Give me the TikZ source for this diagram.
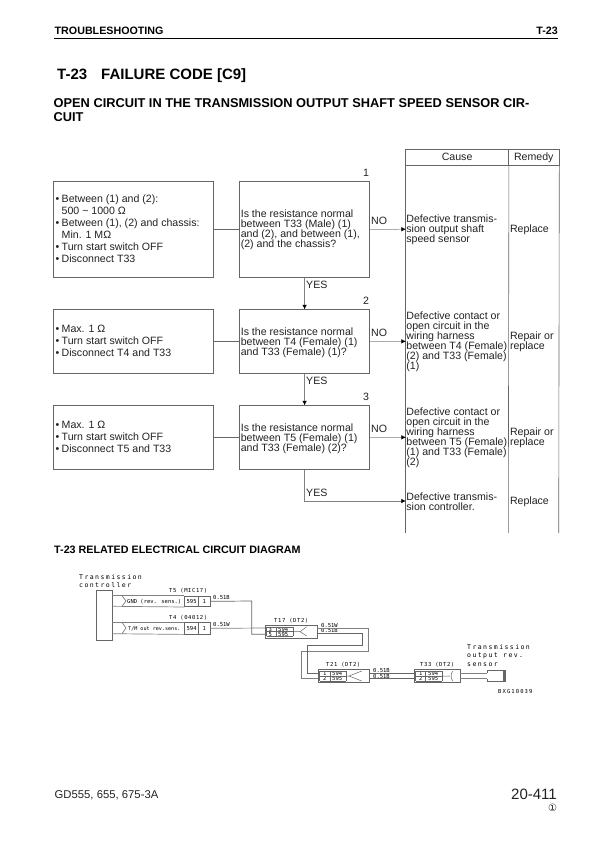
\documentclass[tikz,border=0pt]{standalone}
\usepackage{fontspec}
\setmainfont{Liberation Sans}
\newfontfamily\cctfont{DejaVu Sans Mono}
\newfontfamily\cctmid[LetterSpace=11]{DejaVu Sans Mono}
\newfontfamily\cctbxg[LetterSpace=20]{DejaVu Sans Mono}
\newfontfamily\cctwide[LetterSpace=22]{DejaVu Sans Mono}
\newfontfamily\symfont{DejaVu Sans}
\usetikzlibrary{arrows.meta}
\definecolor{ink}{HTML}{222222}
\definecolor{rule}{HTML}{666666}
\definecolor{wire}{HTML}{808080}
\tikzset{
  body/.style={font=\fontsize{10.6}{10}\selectfont,text=ink,inner sep=0pt},
  lab/.style={body,anchor=west,align=left},
  infobox/.style={draw=rule,line width=0.6pt,anchor=north west,inner sep=0pt},
  headcell/.style={infobox,body,text height=8pt,text depth=2.2pt},
  tip/.style={-{Latex[length=4.5pt,width=4.5pt,color=black]},draw=wire,line width=0.5pt},
  link/.style={draw=rule,line width=0.5pt},
  head/.style={font=\bfseries,text=black,inner sep=0pt,anchor=base west},
  cct/.style={font=\cctfont\fontsize{5.5}{6}\selectfont,text=black,inner sep=0pt,anchor=base west},
  cctt/.style={font=\cctmid\fontsize{5.5}{6}\selectfont,text=black,inner sep=0pt,anchor=base west},
  cctw/.style={font=\cctwide\fontsize{6.5}{8.7}\selectfont,text=black,inner sep=0pt,anchor=north west,align=left},
  wireline/.style={draw=wire,line width=0.7pt},
  darkwire/.style={draw=rule,line width=0.7pt},
  conn/.style={draw=rule,line width=0.7pt,anchor=north west,inner sep=0pt,fill=white},
}
\newcommand{\bul}{\makebox[6pt][l]{•}}
\begin{document}
\begin{tikzpicture}[x=1pt,y=1pt]
\fill[white] (0,0) rectangle (595,-842);
\useasboundingbox (0,0) rectangle (595,-842);
% header
\node[head,font=\bfseries\fontsize{10.7}{12}\selectfont] (hdl) at (54.5,-35) {TROUBLESHOOTING};
\node[head,anchor=base east,font=\bfseries\fontsize{10.7}{12}\selectfont] (hdr) at (558,-35) {T-23};
\coordinate (rl) at (54,-38.6); \coordinate (rr) at (558,-38.6);
\draw[line width=1pt,black] (rl) -- (rr);
\node[head,font=\bfseries\fontsize{15}{17}\selectfont] (t1) at (57,-79.5) {T-23};
\node[head,font=\bfseries\fontsize{15}{17}\selectfont] (t2) at (101,-79.5) {FAILURE CODE [C9]};
\node[head,font=\bfseries\fontsize{12.8}{14}\selectfont] (t3) at (53.5,-108) {OPEN CIRCUIT IN THE TRANSMISSION OUTPUT SHAFT SPEED SENSOR CIR-};
\node[head,font=\bfseries\fontsize{12.8}{14}\selectfont] (t4) at (53.5,-122) {CUIT};
% table
\node[headcell,minimum width=103pt,minimum height=16pt] (cause) at (405.3,-149.3) {Cause};
\node[headcell,minimum width=50.4pt,minimum height=16pt] (remedy) at (508.3,-149.3) {Remedy};
\coordinate (tb1) at (405.3,-533); \coordinate (tb2) at (508.3,-533); \coordinate (tb3) at (558.7,-533);
\draw[link,line width=0.6pt] (cause.south west) -- (tb1);
\draw[link,line width=0.6pt] (cause.south east) -- (tb2);
\draw[link,line width=0.6pt] (remedy.south east) -- (tb3);
% left boxes
\node[infobox,minimum width=159.5pt,minimum height=95.7pt] (a1) at (53.3,-181.3) {};
\node[lab,font=\fontsize{10.6}{12}\selectfont] (a1t) at (55.5,-229) {\bul Between (1) and (2):\\\hspace*{6pt}500 \char"007E{} 1000 Ω\\\bul Between (1), (2) and chassis:\\\hspace*{6pt}Min. 1 MΩ\\\bul Turn start switch OFF\\\bul Disconnect T33};
\node[infobox,minimum width=159.5pt,minimum height=64pt] (a2) at (53.3,-309.3) {};
\node[lab,font=\fontsize{10.6}{12}\selectfont] (a2t) at (55.5,-341.3) {\bul Max. 1 Ω\\\bul Turn start switch OFF\\\bul Disconnect T4 and T33};
\node[infobox,minimum width=159.5pt,minimum height=64pt] (a3) at (53.3,-405.3) {};
\node[lab,font=\fontsize{10.6}{12}\selectfont] (a3t) at (55.5,-437.3) {\bul Max. 1 Ω\\\bul Turn start switch OFF\\\bul Disconnect T5 and T33};
% question boxes
\node[infobox,minimum width=130pt,minimum height=95.7pt] (q1) at (239.3,-181.3) {};
\node[lab] (q1t) at (240.6,-230) {Is the resistance normal\\between T33 (Male) (1)\\and (2), and between (1),\\(2) and the chassis?};
\node[infobox,minimum width=130pt,minimum height=64pt] (q2) at (239.3,-309.3) {};
\node[lab] (q2t) at (240.6,-342.3) {Is the resistance normal\\between T4 (Female) (1)\\and T33 (Female) (1)?};
\node[infobox,minimum width=130pt,minimum height=64pt] (q3) at (239.3,-405.3) {};
\node[lab] (q3t) at (240.6,-438.3) {Is the resistance normal\\between T5 (Female) (1)\\and T33 (Female) (2)?};
% numbers
\node[body] (n1) at (366,-173) {1};
\node[body] (n2) at (366,-301) {2};
\node[body] (n3) at (366,-397) {3};
% cause and remedy
\node[lab] (c1) at (406.2,-229.5) {Defective transmis-\\sion output shaft\\speed sensor};
\node[lab] (c2) at (406.2,-341.8) {Defective contact or\\open circuit in the\\wiring harness\\between T4 (Female)\\(2) and T33 (Female)\\(1)};
\node[lab] (c3) at (406.2,-437.8) {Defective contact or\\open circuit in the\\wiring harness\\between T5 (Female)\\(1) and T33 (Female)\\(2)};
\node[lab] (c4) at (406.2,-501.5) {Defective transmis-\\sion controller.};
\node[lab] (r1) at (509.8,-229.5) {Replace};
\node[lab] (r2) at (509.8,-342) {Repair or\\replace};
\node[lab] (r3) at (509.8,-438) {Repair or\\replace};
\node[lab] (r4) at (509.8,-501.5) {Replace};
% connectors
\draw[link] (a1.east) -- (q1.west);
\draw[link] (a2.east) -- (q2.west);
\draw[link] (a3.east) -- (q3.west);
\coordinate (p1) at (405.8,-229.2);\coordinate (p2) at (405.8,-341.3);\coordinate (p3) at (405.8,-437.3);\coordinate (p4) at (405.8,-501);
\draw[tip] (q1.east) -- (p1);
\draw[tip] (q2.east) -- (p2);
\draw[tip] (q3.east) -- (p3);
\draw[tip] (q1.south) -- (q2.north);
\draw[tip] (q2.south) -- (q3.north);
\draw[tip] (q3.south) |- (p4);
\node[lab] (no1) at (371,-220.5) {NO};
\node[lab] (no2) at (371,-332.5) {NO};
\node[lab] (no3) at (371,-428.5) {NO};
\node[lab] (y1) at (306,-285) {YES};
\node[lab] (y2) at (306,-381) {YES};
\node[lab] (y3) at (306,-493) {YES};
% circuit heading
\node[head,font=\bfseries\fontsize{10.75}{11}\selectfont] (ch) at (54,-553.5) {T-23 RELATED ELECTRICAL CIRCUIT DIAGRAM};
% circuit
\node[cctw] (ctl) at (79,-574) {Transmission\\controller};
\node[conn,minimum width=16.6pt,minimum height=49.7pt] (tc) at (95.7,-590.3) {};
\node[cctt] (t5l) at (169,-592) {T5 (MIC17)};
\node[cctt] (t4l) at (169,-619) {T4 (04012)};
% T5 socket
\node[conn,minimum width=14pt,minimum height=10.6pt,font=\cctfont\fontsize{5.5}{6}\selectfont] (s595) at (184.3,-595.7) {595};
\node[conn,minimum width=11.4pt,minimum height=10.6pt,font=\cctfont\fontsize{5.5}{6}\selectfont] (s1a) at (198.3,-595.7) {1};
\node[cct] (gnd) at (127,-603) {GND (rev. sens.)};
\coordinate (c1top) at (112.3,-595.7);\coordinate (c1bot) at (112.3,-606.3);
\draw[wireline] (c1top) -- (s595.north west);
\draw[wireline] (c1bot) -- (s595.south west);
\draw[wireline] (122,-595.7) -- (126,-601) -- (122,-606.3);
% T4 socket
\node[conn,minimum width=14pt,minimum height=11.4pt,font=\cctfont\fontsize{5.5}{6}\selectfont] (s594) at (184.3,-622.3) {594};
\node[conn,minimum width=11.4pt,minimum height=11.4pt,font=\cctfont\fontsize{5.5}{6}\selectfont] (s1b) at (198.3,-622.3) {1};
\node[cct,font=\cctfont\fontsize{5.1}{6}\selectfont] (tm) at (128,-630) {T/M out rev.sens.};
\coordinate (c2top) at (112.3,-622.3);\coordinate (c2bot) at (112.3,-633.7);
\draw[wireline] (c2top) -- (s594.north west);
\draw[wireline] (c2bot) -- (s594.south west);
\draw[wireline] (122,-622.3) -- (126,-628) -- (122,-633.7);
\node[cct] (w1) at (213,-599) {0.51B};
\node[cct] (w2) at (213,-626) {0.51W};
% T17
\node[cctt] (t17) at (274,-622) {T17 (DT2)};
\node[conn,minimum width=51.7pt,minimum height=13.3pt,line width=1pt] (T17) at (265,-625) {};
\node[cct] at (268.5,-631) {3};\node[cct] at (278,-631) {594};
\node[cct] at (268.5,-636) {5};\node[cct] at (278,-636) {595};
\draw[darkwire,line width=.5pt] (266.7,-627.3) -- (293.3,-627.3) (266.7,-631.7) -- (293.3,-631.7) (266.7,-636) -- (293.3,-636) (266.7,-627.3) -- (266.7,-636) (276.7,-627.3) -- (276.7,-636) (293.3,-627.3) -- (293.3,-636);
\draw[darkwire,line width=.5pt] (293.3,-631.7) -- (300,-631.7) -- (306.7,-626.7) (300,-631.7) -- (306.7,-636);
\coordinate (k1) at (251.7,-601);\coordinate (k2) at (251.7,-634.3);\coordinate (k3) at (265,-634.3);
\draw[darkwire] (s1a.east) -- (k1) -- (k2) -- (k3);
\coordinate (k4) at (265,-628);
\draw[wireline] (s1b.east) -- (k4);
\node[cct] (w3) at (321,-627) {0.51W};
\node[cct] (w4) at (321,-632.2) {0.51B};
% T21
\node[cctt] (t21) at (326,-666) {T21 (DT2)};
\node[conn,minimum width=51.6pt,minimum height=13pt,line width=1pt] (T21) at (317.7,-669.3) {};
\node[cct] at (323,-675.5) {1};\node[cct] at (332,-675.5) {594};
\node[cct] at (323,-680.6) {2};\node[cct] at (332,-680.6) {595};
\draw[darkwire,line width=.5pt] (319.5,-671) -- (346,-671) (319.5,-676) -- (346,-676) (319.5,-681) -- (346,-681) (319.5,-671) -- (319.5,-681) (330,-671) -- (330,-681) (346,-671) -- (346,-681);
\draw[darkwire,line width=.5pt] (346,-676) -- (349,-676) -- (361.7,-671) (349,-676) -- (361.7,-681);
% T17-T21 wires
\coordinate (m1) at (316.7,-628.3);\coordinate (m2) at (368.3,-628.3);\coordinate (m3) at (368.3,-651);\coordinate (m4) at (301.7,-651);\coordinate (m5) at (301.7,-678.3);\coordinate (m6) at (317.7,-678.3);
\draw[wireline] (m1) -- (m2) -- (m3) -- (m4) -- (m5) -- (m6);
\coordinate (u1) at (316.7,-633.3);\coordinate (u2) at (362.7,-633.3);\coordinate (u3) at (362.7,-645);\coordinate (u4) at (307.3,-645);\coordinate (u5) at (307.3,-673.3);\coordinate (u6) at (317.7,-673.3);
\draw[darkwire] (u1) -- (u2) -- (u3) -- (u4) -- (u5) -- (u6);
\node[cct] (w5) at (373,-672) {0.51B};
\node[cct] (w6) at (373,-678.3) {0.51B};
% T33
\node[cctt] (t33) at (420,-666) {T33 (DT2)};
\node[conn,minimum width=46pt,minimum height=13pt,line width=1pt] (T33) at (414,-669.3) {};
\node[cct] at (419,-675.5) {1};\node[cct] at (428,-675.5) {594};
\node[cct] at (419,-680.6) {2};\node[cct] at (428,-680.6) {595};
\draw[darkwire,line width=.5pt] (415.5,-671) -- (442,-671) (415.5,-676) -- (442,-676) (415.5,-681) -- (442,-681) (415.5,-671) -- (415.5,-681) (425.5,-671) -- (425.5,-681) (442,-671) -- (442,-681);
\draw[darkwire,line width=.5pt] (442,-676) -- (450,-676) (453,-671) .. controls (450.5,-673) and (450.5,-679) .. (453,-681);
\coordinate (v1) at (369.3,-673.3);\coordinate (v2) at (414,-673.3);\coordinate (v3) at (369.3,-678.3);\coordinate (v4) at (414,-678.3);
\draw[darkwire] (v1) -- (v2);\draw[darkwire] (v3) -- (v4);
% sensor
\node[cctw] (sl) at (467,-644) {Transmission\\output rev.\\sensor};
\coordinate (x1) at (460,-673.3);\coordinate (x2) at (487.3,-673.3);\coordinate (x3) at (460,-678.3);\coordinate (x4) at (487.3,-678.3);
\draw[wireline] (x1) -- (x2);\draw[wireline] (x3) -- (x4);
\draw[darkwire] (487.3,-672.5) -- (487.3,-670.7) -- (505,-670.7) -- (505,-681) -- (487.3,-681) -- (487.3,-679);
\fill[rule] (503,-670.7) rectangle (505.3,-681);
\node[cct,font=\cctbxg\fontsize{5.5}{6}\selectfont] (bxg) at (498,-693.3) {BXG10039};
% footer
\node[head,font=\fontsize{11.3}{13}\selectfont,text=ink] (f1) at (54.5,-798) {GD555, 655, 675-3A};
\node[head,anchor=base east,font=\fontsize{15}{17}\selectfont,text=ink] (f2) at (557,-799) {20-411};
\node[inner sep=0pt,font=\symfont\fontsize{10}{10}\selectfont,text=ink] (f3) at (552.5,-808) {①};
\end{tikzpicture}
\end{document}
